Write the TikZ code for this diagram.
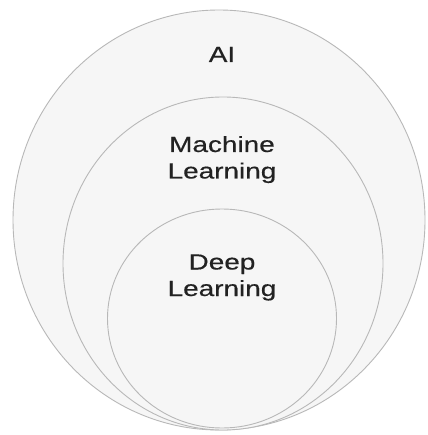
\documentclass[tikz,border=0pt]{standalone}
\usepackage{fontspec}
\setmainfont{Liberation Sans}
\usetikzlibrary{shapes.geometric}
\definecolor{rimgray}{HTML}{B8B8B8}
\definecolor{setfill}{HTML}{F6F6F6}
\definecolor{labelgray}{HTML}{222222}
\tikzset{
  setshape/.style={ellipse, draw=rimgray, line width=0.9pt, fill=setfill, inner sep=0pt},
  setlabel/.style={font=\addfontfeatures{FakeStretch=1.27,FakeBold=0.4}\fontsize{22}{26.5}\selectfont,
    text=labelgray, align=center, anchor=base, inner sep=0pt}
}
\begin{document}
\begin{tikzpicture}[x=1pt, y=-1pt]
  \useasboundingbox (0,0) rectangle (427,435);
  \fill[white] (0,0) rectangle (427,435);
  % nested sets, bottoms nearly touching
  \node[setshape, minimum width=412pt, minimum height=420pt] (ai) at (219,220) {};
  \node[setshape, minimum width=320pt, minimum height=333pt] (ml) at (223,263.5) {};
  \node[setshape, minimum width=229pt, minimum height=219pt] (dl) at (222,318.5) {};
  % labels (placed by the baseline of their last line)
  \node[setlabel] (ailabel) at (222,62) {AI};
  \node[setlabel] (mllabel) at (222,178.5) {Machine\\Learning};
  \node[setlabel] (dllabel) at (222,296) {Deep\\Learning};
\end{tikzpicture}
\end{document}
